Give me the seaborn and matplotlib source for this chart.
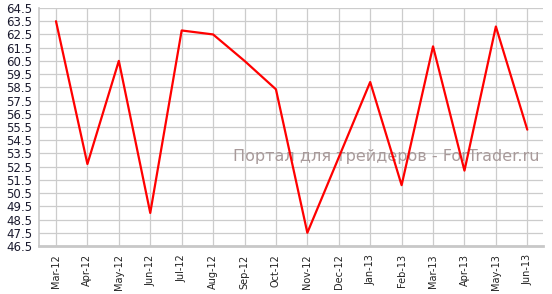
import matplotlib
matplotlib.use("Agg")
import matplotlib.pyplot as plt
import seaborn as sns
import numpy as np
import pandas as pd

months = ["Mar-12", "Apr-12", "May-12", "Jun-12", "Jul-12", "Aug-12", "Sep-12", "Oct-12",
          "Nov-12", "Dec-12", "Jan-13", "Feb-13", "Mar-13", "Apr-13", "May-13", "Jun-13"]
values = [63.5, 52.7, 60.5, 49.0, 62.8, 62.5, 60.5, 58.35,
          47.5, 53.2, 58.9, 51.1, 61.6, 52.2, 63.1, 55.3]
yticks = [46.5 + i for i in range(19)]

df = pd.DataFrame({"idx": np.arange(len(months)), "value": values})

sns.set_style("white")
plt.rcParams['font.family'] = ['DejaVu Sans']

fig = plt.figure(figsize=(5.52, 2.94), dpi=100)
ax = fig.add_axes([0.0707, 0.1633, 0.913, 0.8095])

ax.text(0.994, 0.374, "Портал для трейдеров - ForTrader.ru", transform=ax.transAxes,
        ha="right", va="center", fontsize=11.5, color="#a89a9a", zorder=1.5)

sns.lineplot(data=df, x="idx", y="value", ax=ax, color="#ff0000", linewidth=1.6, zorder=3)

ax.set_xlim(-0.54, 15.5)
ax.set_ylim(46.5, 64.5)
ax.set_yticks(yticks)
ax.set_yticklabels([f"{v:.1f}" for v in yticks], fontsize=8.5, color="#1a1a2e")
ax.set_xticks(np.arange(len(months)))
ax.set_xticklabels(months, rotation=90, fontsize=7, color="#222222")
ax.set_xlabel("")
ax.set_ylabel("")

ax.grid(True, color="#cccccc", linewidth=0.9)
ax.set_axisbelow(True)
for s in ["top", "right"]:
    ax.spines[s].set_visible(False)
ax.spines["left"].set_color("#c8c8c8")
ax.spines["left"].set_linewidth(1.2)
ax.spines["bottom"].set_color("#c8c8c8")
ax.spines["bottom"].set_linewidth(2.0)
ax.tick_params(axis="both", which="both", length=3, color="#c8c8c8", pad=2, width=0.8)
ax.tick_params(axis="x", pad=3)

fig.savefig("out.png", dpi=100)
